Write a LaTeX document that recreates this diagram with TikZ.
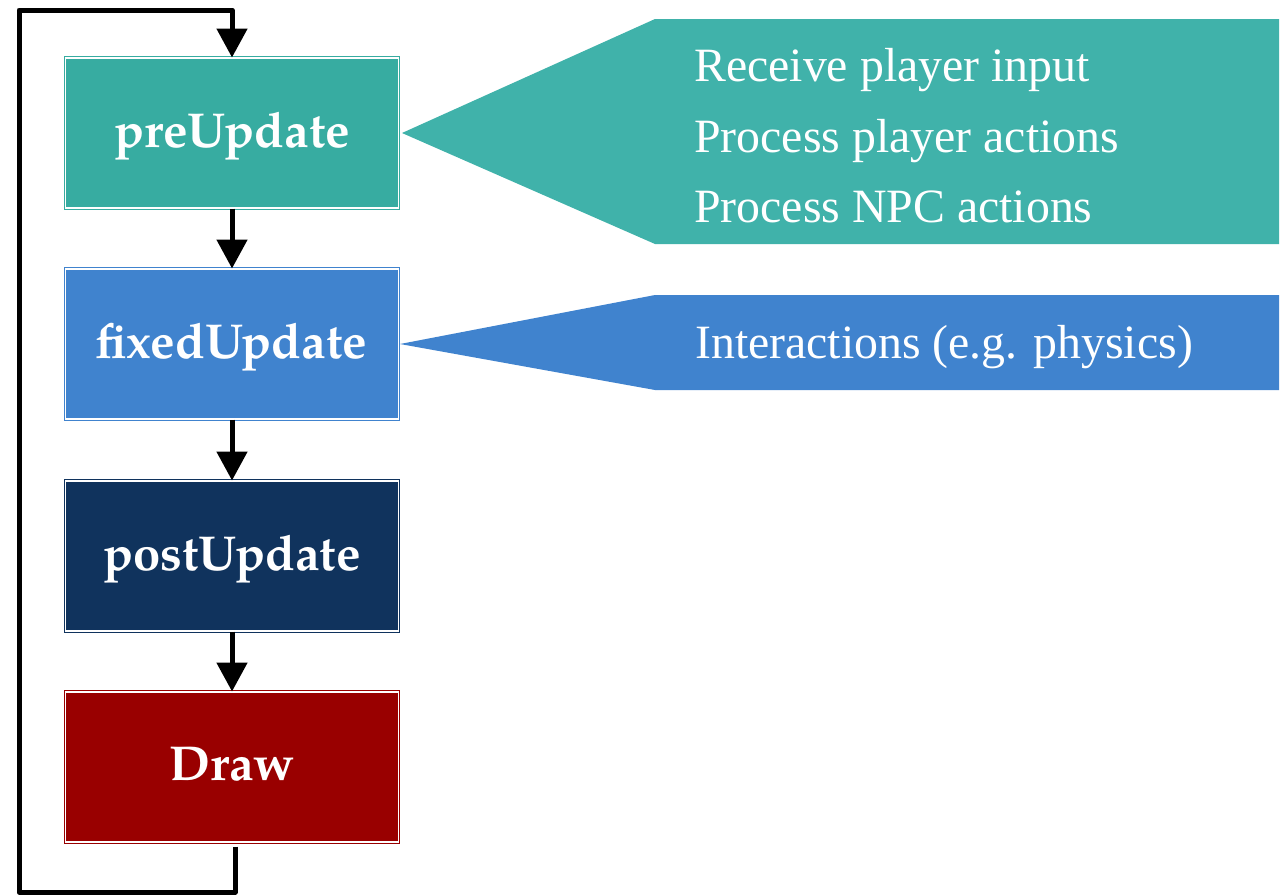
\documentclass[tikz,border=0pt]{standalone}
\usepackage{fontspec}
\setmainfont{Liberation Serif}
\newfontfamily\labelfont{TeX Gyre Pagella}
\usetikzlibrary{arrows.meta}

\definecolor{tealbox}{RGB}{55,172,161}
\definecolor{tealnote}{RGB}{64,178,170}
\definecolor{bluebox}{RGB}{64,131,206}
\definecolor{navybox}{RGB}{16,51,93}
\definecolor{redbox}{RGB}{153,0,0}

\tikzset{
  stage/.style={minimum width=333pt, minimum height=150pt, inner sep=0pt,
    text depth=6pt,
    draw=#1, double=white, double distance=1.6pt, line width=1pt, fill=#1,
    text=white, font=\labelfont\bfseries\fontsize{49}{58}\selectfont},
  flow/.style={line width=5pt, line join=round,
    -{Triangle[width=30pt,length=29pt]}},
  notetext/.style={anchor=base west, inner sep=0pt, text=white,
    font=\fontsize{47.8}{56}\selectfont},
}

\begin{document}
\begin{tikzpicture}[x=1pt,y=-1pt]
  \useasboundingbox (0,0) rectangle (1281,895);

  % game-loop stages
  \node[stage=tealbox] (pre)  at (232,133) {preUpdate};
  \node[stage=bluebox] (fix)  at (232,344) {fixedUpdate};
  \node[stage=navybox] (post) at (232,556) {postUpdate};
  \node[stage=redbox]  (drw)  at (232,767) {Draw};

  % flow between stages
  \draw[flow] (pre.south)  -- (fix.north);
  \draw[flow] (fix.south)  -- (post.north);
  \draw[flow] (post.south) -- (drw.north);

  % loop back from Draw to preUpdate
  \coordinate (bl) at (19,892);
  \coordinate (tl) at (19,10);
  \draw[flow] ([xshift=3pt,yshift=-4pt]drw.south) |- (bl) -- (tl) -| (pre.north);

  % callouts
  \fill[tealnote] ([xshift=3pt]pre.east) -- (655,19) -- (1279,19)
                  -- (1279,244) -- (655,244) -- cycle;
  \fill[bluebox]  ([xshift=1pt]fix.east) -- (655,295) -- (1279,295)
                  -- (1279,390) -- (655,390) -- cycle;

  \node[notetext] (n1) at (694,81)  {Receive player input};
  \node[notetext] (n2) at (694,152) {Process player actions};
  \node[notetext] (n3) at (694,222) {Process NPC actions};
  \node[notetext] (n4) at (695,358) {Interactions (e.g. physics)};
\end{tikzpicture}
\end{document}
